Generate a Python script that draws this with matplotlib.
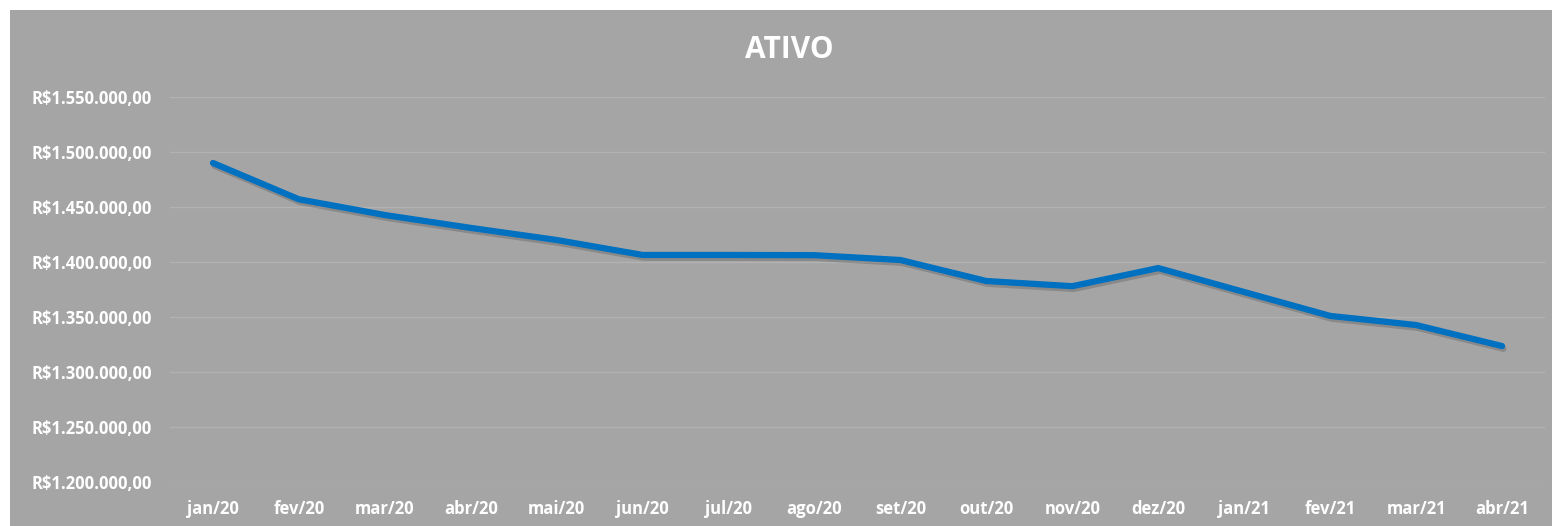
import matplotlib
matplotlib.use('Agg')
import matplotlib.pyplot as plt
import matplotlib.patheffects as pe
from matplotlib.patches import Rectangle
from matplotlib.ticker import FuncFormatter

meses = ['jan/20', 'fev/20', 'mar/20', 'abr/20', 'mai/20', 'jun/20', 'jul/20', 'ago/20',
         'set/20', 'out/20', 'nov/20', 'dez/20', 'jan/21', 'fev/21', 'mar/21', 'abr/21']
ativo = [1490000, 1457000, 1442700, 1431000, 1420000, 1406400, 1406400, 1406200,
         1401800, 1382700, 1378000, 1394500, 1372700, 1351000, 1342700, 1323600]

bg = '#A5A5A5'
font = 'Open Sans'


def brl(v, pos):
    s = '{:,.2f}'.format(v)
    s = s.replace(',', 'X').replace('.', ',').replace('X', '.')
    return 'R$' + s


fig = plt.figure(figsize=(15.52, 5.26), dpi=100, facecolor='white')
fig.patches.append(Rectangle((10 / 1552, 0), 1, 516 / 526, transform=fig.transFigure,
                             facecolor=bg, edgecolor='none', zorder=-5))

ax = fig.add_axes([170 / 1552, 1 - 482 / 526, 1375 / 1552, 385 / 526])
ax.set_facecolor('none')
x = range(len(meses))
ax.plot(x, ativo, color='#0070C0', lw=4.5, solid_capstyle='round', solid_joinstyle='round',
        path_effects=[pe.SimpleLineShadow(offset=(1, -2), shadow_color='#555555', alpha=0.35),
                      pe.Normal()], zorder=3)

ax.set_xlim(-0.5, len(meses) - 0.5)
ax.set_ylim(1200000, 1550000)
ax.set_yticks(range(1200000, 1550001, 50000))
ax.yaxis.set_major_formatter(FuncFormatter(brl))
ax.set_xticks(list(x))
ax.set_xticklabels(meses)
ax.grid(axis='y', color='#B2B2B2', lw=1)
ax.set_axisbelow(True)
for s in ax.spines.values():
    s.set_visible(False)
ax.tick_params(length=0, colors='white', labelsize=12)
ax.tick_params(axis='x', pad=13)
ax.tick_params(axis='y', pad=13)
for lb in ax.get_xticklabels() + ax.get_yticklabels():
    lb.set_fontfamily(font)
    lb.set_fontweight('bold')

fig.text(789 / 1552, 1 - 50 / 526, 'ATIVO', color='white', fontsize=21.5,
         fontweight='bold', fontfamily=font, ha='center', va='center')

fig.savefig('out.png', dpi=100, facecolor='white')
